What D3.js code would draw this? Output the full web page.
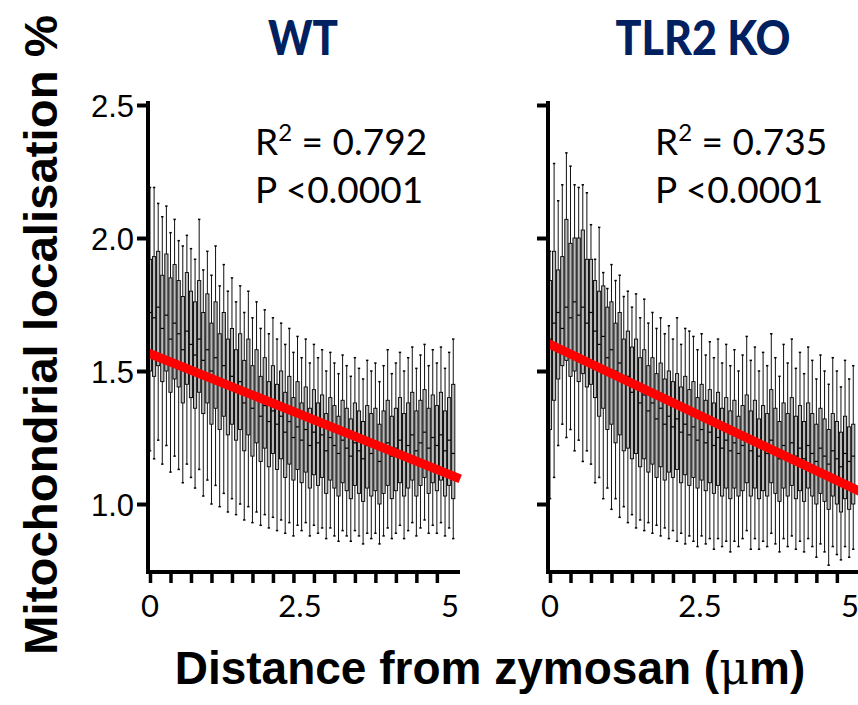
<!DOCTYPE html>
<html>
<head>
<meta charset="utf-8">
<script src="https://cdn.jsdelivr.net/npm/d3@7"></script>
<style>
  body { margin: 0; background: #fff; }
  svg { display: block; }
</style>
</head>
<body>
<script>
// bins along the distance axis (one box per pixel bin, 0.0683 um each)
var binUm = 0.0683;
var bins = d3.range(75);

var yTicks = [1.0, 1.5, 2.0, 2.5];
var xLabels = [0, 2.5, 5];
var titles = ['WT', 'TLR2 KO'];
var r2Text = ['0.792', '0.735'];
var pText = ['<0.0001', '<0.0001'];

// regression lines: [intercept, slope]
var wtFit = [1.565, -0.091];
var koFit = [1.60, -0.107];

// WT box values
var wtMed = [1.72,1.70,1.74,1.66,1.71,1.62,1.68,1.64,1.58,1.65,
             1.60,1.56,1.62,1.54,1.58,1.50,1.55,1.47,1.52,1.45,
             1.48,1.42,1.46,1.38,1.43,1.36,1.40,1.33,1.37,1.31,
             1.35,1.30,1.33,1.27,1.31,1.25,1.29,1.24,1.28,1.22,
             1.27,1.23,1.26,1.20,1.25,1.22,1.19,1.24,1.21,1.18,
             1.23,1.20,1.17,1.22,1.19,1.21,1.16,1.20,1.23,1.18,
             1.21,1.24,1.19,1.22,1.26,1.20,1.23,1.27,1.21,1.25,
             1.22,1.26,1.20,1.24,1.19];
var wtQ3 = [1.92,1.93,1.95,1.86,1.94,1.85,1.90,1.84,1.78,1.87,
            1.80,1.76,1.84,1.72,1.79,1.68,1.76,1.64,1.72,1.62,
            1.66,1.58,1.64,1.54,1.62,1.52,1.58,1.48,1.55,1.46,
            1.52,1.45,1.50,1.42,1.48,1.40,1.46,1.38,1.44,1.36,
            1.43,1.38,1.41,1.34,1.40,1.37,1.33,1.39,1.36,1.32,
            1.38,1.35,1.31,1.37,1.34,1.36,1.30,1.35,1.39,1.33,
            1.36,1.40,1.34,1.38,1.42,1.35,1.39,1.43,1.36,1.41,
            1.37,1.42,1.35,1.40,1.45];
var wtQ1 = [1.50,1.48,1.52,1.46,1.50,1.42,1.47,1.44,1.38,1.45,
            1.40,1.36,1.42,1.34,1.38,1.30,1.36,1.28,1.33,1.26,
            1.30,1.24,1.28,1.20,1.26,1.18,1.23,1.16,1.21,1.14,
            1.19,1.13,1.17,1.10,1.15,1.09,1.13,1.08,1.12,1.06,
            1.11,1.07,1.10,1.04,1.09,1.06,1.03,1.08,1.05,1.02,
            1.07,1.04,1.01,1.06,1.03,1.05,1.00,1.04,1.07,1.02,
            1.05,1.08,1.03,1.06,1.09,1.03,1.07,1.10,1.04,1.08,
            1.05,1.09,1.03,1.07,1.02];
var wtHi = [2.19,2.19,2.13,2.08,2.12,2.02,2.07,1.99,1.97,2.01,
            1.96,1.92,2.07,1.88,1.95,1.86,1.97,1.82,1.90,1.80,
            1.85,1.76,1.82,1.72,1.80,1.70,1.76,1.66,1.73,1.64,
            1.70,1.62,1.68,1.60,1.66,1.57,1.63,1.55,1.62,1.53,
            1.60,1.55,1.58,1.50,1.57,1.53,1.49,1.56,1.52,1.48,
            1.55,1.51,1.47,1.54,1.50,1.53,1.46,1.52,1.58,1.49,
            1.53,1.57,1.50,1.55,1.59,1.51,1.56,1.60,1.52,1.58,
            1.53,1.59,1.51,1.57,1.62];
var wtLo = [1.20,1.17,1.24,1.15,1.22,1.12,1.18,1.13,1.08,1.15,
            1.10,1.06,1.13,1.03,1.09,1.00,1.07,0.99,1.04,0.97,
            1.02,0.96,1.00,0.94,0.99,0.93,0.97,0.92,0.96,0.91,
            0.95,0.90,0.94,0.89,0.93,0.88,0.92,0.90,0.93,0.88,
            0.92,0.89,0.91,0.87,0.91,0.88,0.86,0.90,0.88,0.86,
            0.90,0.88,0.85,0.89,0.87,0.89,0.85,0.88,0.91,0.87,
            0.89,0.92,0.87,0.90,0.93,0.88,0.91,0.94,0.89,0.92,
            0.89,0.93,0.88,0.91,0.87];

// TLR2 KO box values
var koMed = [1.62,1.68,1.72,1.66,1.74,1.70,1.76,1.71,1.74,1.68,
             1.72,1.65,1.60,1.63,1.55,1.58,1.50,1.53,1.46,1.48,
             1.42,1.45,1.38,1.41,1.35,1.38,1.32,1.36,1.30,1.33,
             1.29,1.32,1.27,1.30,1.26,1.29,1.24,1.28,1.23,1.27,
             1.22,1.25,1.21,1.24,1.20,1.23,1.19,1.22,1.25,1.20,
             1.23,1.18,1.22,1.19,1.24,1.20,1.17,1.22,1.19,1.23,
             1.18,1.21,1.17,1.22,1.19,1.16,1.21,1.18,1.15,1.20,
             1.17,1.14,1.19,1.16,1.18];
var koQ3 = [1.84,1.95,1.88,1.93,2.07,1.98,2.00,2.00,2.03,1.92,
            1.92,1.84,1.80,1.82,1.74,1.76,1.68,1.72,1.62,1.65,
            1.59,1.62,1.55,1.58,1.52,1.55,1.49,1.53,1.47,1.50,
            1.46,1.49,1.44,1.48,1.43,1.46,1.40,1.45,1.39,1.43,
            1.38,1.42,1.36,1.40,1.35,1.39,1.33,1.37,1.41,1.35,
            1.39,1.32,1.37,1.34,1.43,1.36,1.31,1.38,1.34,1.40,
            1.33,1.37,1.31,1.38,1.34,1.30,1.36,1.32,1.28,1.34,
            1.31,1.27,1.33,1.29,1.30];
var koQ1 = [1.28,1.39,1.47,1.52,1.54,1.48,1.50,1.46,1.49,1.44,
            1.45,1.40,1.33,1.36,1.28,1.30,1.23,1.26,1.20,1.21,
            1.17,1.19,1.14,1.17,1.12,1.15,1.10,1.14,1.09,1.12,
            1.10,1.13,1.08,1.11,1.07,1.10,1.06,1.09,1.05,1.08,
            1.04,1.07,1.03,1.06,1.02,1.06,1.03,1.05,1.08,1.03,
            1.06,1.02,1.05,1.03,1.08,1.04,1.01,1.06,1.03,1.07,
            1.02,1.05,1.01,1.06,1.03,1.00,1.04,1.01,0.98,1.03,
            1.00,0.97,1.02,0.98,1.00];
var koHi = [1.95,2.28,2.14,2.20,2.32,2.27,2.20,2.19,2.20,2.17,
            2.05,1.92,2.04,1.87,1.81,1.90,1.84,1.86,1.78,1.80,
            1.74,1.79,1.70,1.77,1.68,1.72,1.66,1.70,1.64,1.67,
            1.62,1.70,1.60,1.66,1.65,1.63,1.58,1.64,1.56,1.61,
            1.55,1.62,1.53,1.60,1.52,1.58,1.50,1.56,1.63,1.54,
            1.59,1.50,1.57,1.52,1.64,1.55,1.48,1.60,1.53,1.62,
            1.51,1.57,1.49,1.59,1.54,1.47,1.56,1.50,1.45,1.55,
            1.50,1.44,1.54,1.47,1.52];
var koLo = [1.02,1.10,1.22,1.30,1.25,1.28,1.20,1.24,1.16,1.20,
            1.15,1.08,1.10,1.02,1.06,0.98,1.02,0.95,0.99,0.93,
            0.96,0.91,0.94,0.90,0.93,0.89,0.92,0.88,0.91,0.87,
            0.90,0.86,0.89,0.85,0.88,0.86,0.84,0.88,0.85,0.87,
            0.83,0.87,0.84,0.86,0.82,0.86,0.84,0.87,0.90,0.83,
            0.87,0.83,0.86,0.84,0.89,0.85,0.82,0.87,0.84,0.88,
            0.83,0.86,0.82,0.87,0.84,0.80,0.85,0.82,0.77,0.84,
            0.81,0.79,0.84,0.80,0.83];

var panels = [
  {title: titles[0], r2: r2Text[0], p: pText[0], fit: wtFit, med: wtMed, q1: wtQ1, q3: wtQ3, lo: wtLo, hi: wtHi, left: 148, labels: true},
  {title: titles[1], r2: r2Text[1], p: pText[1], fit: koFit, med: koMed, q1: koQ1, q3: koQ3, lo: koLo, hi: koHi, left: 548, labels: false}
];

var width = 858, height = 705;
var svg = d3.select('body').append('svg').attr('width', width).attr('height', height);

var y = d3.scaleLinear().domain([0.7444, 2.5]).range([572, 105]);

var boxW = 3.2;

panels.forEach(function (pn) {
  var x0 = pn.left + 2;
  // distance (um) -> px, 60 px per um
  var x = d3.scaleLinear().domain([0, 5]).range([x0, x0 + 300]);
  var g = svg.append('g');

  var boxes = g.selectAll('g.box')
    .data(bins)
    .enter()
    .append('g')
    .attr('class', 'box');

  // whiskers
  boxes.append('line')
    .attr('x1', function (i) { return x(i * binUm); })
    .attr('x2', function (i) { return x(i * binUm); })
    .attr('y1', function (i) { return y(pn.hi[i]); })
    .attr('y2', function (i) { return y(pn.lo[i]); })
    .attr('stroke', '#111')
    .attr('stroke-width', 1);
  boxes.append('line')
    .attr('x1', function (i) { return x(i * binUm) - 1.2; })
    .attr('x2', function (i) { return x(i * binUm) + 1.2; })
    .attr('y1', function (i) { return y(pn.hi[i]); })
    .attr('y2', function (i) { return y(pn.hi[i]); })
    .attr('stroke', '#000')
    .attr('stroke-width', 1.5);
  boxes.append('line')
    .attr('x1', function (i) { return x(i * binUm) - 1.2; })
    .attr('x2', function (i) { return x(i * binUm) + 1.2; })
    .attr('y1', function (i) { return y(pn.lo[i]); })
    .attr('y2', function (i) { return y(pn.lo[i]); })
    .attr('stroke', '#000')
    .attr('stroke-width', 1.5);

  // boxes
  boxes.append('rect')
    .attr('x', function (i) { return x(i * binUm) - boxW / 2; })
    .attr('width', boxW)
    .attr('y', function (i) { return y(pn.q3[i]); })
    .attr('height', function (i) { return y(pn.q1[i]) - y(pn.q3[i]); })
    .attr('fill', '#b8b8b8')
    .attr('stroke', '#000')
    .attr('stroke-width', 0.9);
  boxes.append('line')
    .attr('x1', function (i) { return x(i * binUm) - boxW / 2; })
    .attr('x2', function (i) { return x(i * binUm) + boxW / 2; })
    .attr('y1', function (i) { return y(pn.med[i]); })
    .attr('y2', function (i) { return y(pn.med[i]); })
    .attr('stroke', '#000')
    .attr('stroke-width', 1.2);

  // regression line
  var xs = [-0.03, 5.17];
  g.append('line')
    .attr('x1', x(xs[0]))
    .attr('x2', x(xs[1]))
    .attr('y1', y(pn.fit[0] + pn.fit[1] * xs[0]))
    .attr('y2', y(pn.fit[0] + pn.fit[1] * xs[1]))
    .attr('stroke', '#ff0000')
    .attr('stroke-width', 9);

  // y axis
  var yAxis = g.append('g')
    .attr('transform', 'translate(' + pn.left + ',0)')
    .call(d3.axisLeft(y).tickValues(yTicks).tickSize(11).tickSizeOuter(0)
      .tickFormat(pn.labels ? d3.format('.1f') : ''));
  yAxis.select('.domain').remove();
  yAxis.selectAll('.tick line').attr('stroke-width', 4);
  yAxis.selectAll('.tick text')
    .attr('font-family', '"Liberation Sans", Arial, sans-serif')
    .attr('font-size', 31)
    .attr('x', -14)
    .attr('dy', '0.36em');
  g.append('line')
    .attr('x1', pn.left).attr('x2', pn.left)
    .attr('y1', 101).attr('y2', 574)
    .attr('stroke', '#000').attr('stroke-width', 4);

  // x axis (ticks every 5 bins)
  var xAxis = g.append('g')
    .attr('transform', 'translate(0,572)')
    .call(d3.axisBottom(x).tickValues(d3.range(0, 75, 5).map(function (i) { return i * binUm; }))
      .tickSize(11).tickSizeOuter(0).tickFormat(''));
  xAxis.select('.domain').remove();
  xAxis.selectAll('.tick line').attr('stroke-width', 3.5);
  g.append('line')
    .attr('x1', pn.left - 2).attr('x2', pn.left + 312)
    .attr('y1', 572).attr('y2', 572)
    .attr('stroke', '#000').attr('stroke-width', 4);

  g.selectAll('text.xl')
    .data(xLabels)
    .enter()
    .append('text')
    .attr('class', 'xl')
    .attr('x', function (d) { return x(d); })
    .attr('y', 617)
    .attr('text-anchor', 'middle')
    .attr('font-family', 'Lato, "Open Sans", sans-serif')
    .attr('font-size', 31)
    .text(function (d) { return d; });

  // panel title
  g.append('text')
    .attr('x', pn.left + 155)
    .attr('y', 55)
    .attr('text-anchor', 'middle')
    .attr('font-family', 'Lato, sans-serif')
    .attr('font-weight', 900)
    .attr('font-size', 48)
    .attr('fill', '#002060')
    .attr('textLength', pn.title === 'WT' ? 70 : 175)
    .attr('lengthAdjust', 'spacingAndGlyphs')
    .text(pn.title);

  // stats
  var r = g.append('text')
    .attr('x', pn.left + 107)
    .attr('y', 155)
    .attr('font-family', 'Lato, sans-serif')
    .attr('font-size', 37);
  r.append('tspan').text('R');
  r.append('tspan').attr('font-size', 24).attr('dy', -14).text('2');
  r.append('tspan').attr('dy', 14).text(' = ' + pn.r2);
  g.append('text')
    .attr('x', pn.left + 107)
    .attr('y', 203)
    .attr('font-family', 'Lato, sans-serif')
    .attr('font-size', 37)
    .text('P ' + pn.p);
});

// axis titles
svg.append('text')
  .attr('transform', 'translate(57,335) rotate(-90)')
  .attr('text-anchor', 'middle')
  .attr('font-family', '"Liberation Sans", Arial, sans-serif')
  .attr('font-weight', 'bold')
  .attr('font-size', 46)
  .attr('textLength', 640)
  .attr('lengthAdjust', 'spacingAndGlyphs')
  .text('Mitochondrial localisation %');

var xt = svg.append('text')
  .attr('x', 490)
  .attr('y', 684)
  .attr('text-anchor', 'middle')
  .attr('font-family', '"Liberation Sans", Arial, sans-serif')
  .attr('font-weight', 'bold')
  .attr('font-size', 46);
xt.append('tspan').text('Distance from zymosan (');
xt.append('tspan').attr('font-weight', 'normal').attr('font-family', '"DejaVu Serif", serif').text('\u03bc');
xt.append('tspan').text('m)');
</script>
</body>
</html>
